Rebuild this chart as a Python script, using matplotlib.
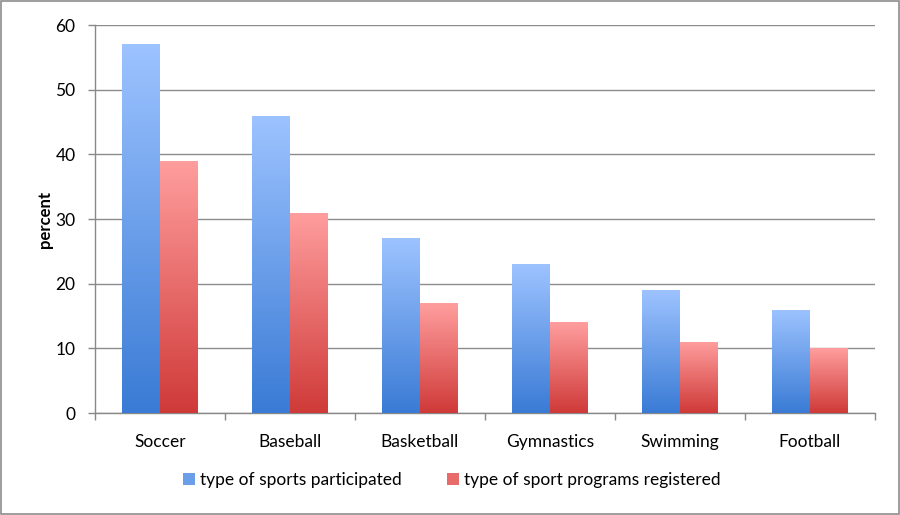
import matplotlib
matplotlib.use("Agg")
import matplotlib.pyplot as plt
import numpy as np
from matplotlib.colors import LinearSegmentedColormap
from matplotlib.patches import Patch, Rectangle

categories = ["Soccer", "Baseball", "Basketball", "Gymnastics", "Swimming", "Football"]
participated = [57, 46, 27, 23, 19, 16]
registered = [39, 31, 17, 14, 11, 10]
series_names = ["type of sports participated", "type of sport programs registered"]

plt.rcParams["font.family"] = ["Lato", "DejaVu Sans"]

blue_cmap = LinearSegmentedColormap.from_list("blue", ["#3a7bd5", "#9dc3ff"])
red_cmap = LinearSegmentedColormap.from_list("red", ["#cf3a38", "#ff9e9e"])

fig = plt.figure(figsize=(9, 5.15), dpi=100)
ax = fig.add_axes([95 / 900, 1 - 413 / 515, 780 / 900, 388 / 515])

x = np.arange(len(categories))
width = 0.29
grad = np.linspace(0, 1, 256).reshape(-1, 1)


def gradient_bars(xs, heights, cmap):
    for xi, h in zip(xs, heights):
        rect = Rectangle((xi, 0), width, h, facecolor="none", edgecolor="none")
        ax.add_patch(rect)
        im = ax.imshow(grad, cmap=cmap, origin="lower", aspect="auto",
                       extent=(xi, xi + width, 0, h), zorder=3)
        im.set_clip_path(rect)


gradient_bars(x - width, participated, blue_cmap)
gradient_bars(x, registered, red_cmap)

ax.set_xlim(-0.5, len(categories) - 0.5)
ax.set_ylim(0, 60)
ax.set_yticks(range(0, 61, 10))
ax.set_xticks(x)
ax.set_xticklabels(categories, fontsize=12.5)
ax.set_xticks(np.arange(-0.5, len(categories), 1), minor=True)
ax.tick_params(axis="x", which="major", length=0, pad=15)
ax.tick_params(axis="x", which="minor", length=5, color="#888888", width=1)
ax.tick_params(axis="y", length=5, color="#888888", width=1, labelsize=12.5, pad=9)

ax.grid(axis="y", color="#8c8c8c", linewidth=1, zorder=0)
ax.set_axisbelow(True)
for side in ["top", "right"]:
    ax.spines[side].set_visible(False)
for side in ["left", "bottom"]:
    ax.spines[side].set_color("#888888")
    ax.spines[side].set_linewidth(1)

ax.set_ylabel("percent", fontsize=12, fontweight="bold", labelpad=2)

handles = [Patch(facecolor="#6a9ee9", edgecolor="none"),
           Patch(facecolor="#e86b6a", edgecolor="none")]
fig.legend(handles, series_names, loc="center", bbox_to_anchor=(452 / 900, 1 - 480 / 515),
           ncol=2, frameon=False, fontsize=12.5, handlelength=0.7, handleheight=0.7,
           handletextpad=0.3, columnspacing=2.6)

border = Rectangle((0.001, 0.001), 0.998, 0.997, transform=fig.transFigure,
                   fill=False, edgecolor="#8c8c8c", linewidth=1.2)
fig.patches.append(border)

fig.savefig("out.png", dpi=100)
